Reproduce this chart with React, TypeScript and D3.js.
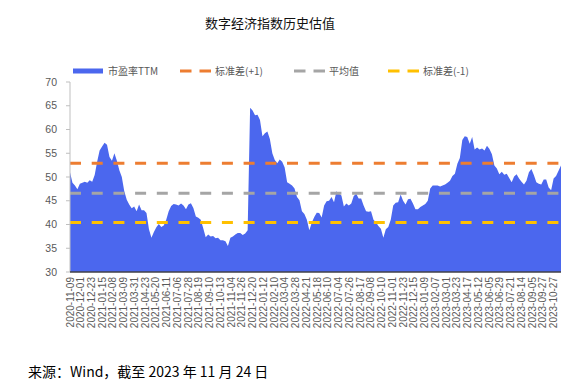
import React from 'react';
import * as d3 from 'd3';

// 市盈率TTM, sampled evenly across the whole period
const peValues = [
  51.0, 48.8, 48.2, 47.4, 48.6, 48.8, 49.0, 48.8, 49.3, 49.0,
  50.4, 53.2, 55.6, 56.4, 57.2, 56.8, 54.2, 53.4, 55.0, 53.4,
  51.4, 50.0, 47.0, 45.2, 44.2, 43.4, 43.8, 42.8, 44.2, 43.0,
  43.0, 42.4, 39.0, 37.2, 38.4, 39.4, 40.1, 39.5, 39.8, 41.0,
  42.8, 43.9, 44.3, 44.2, 44.0, 44.4, 44.0, 43.2, 44.2, 44.5,
  43.5, 41.7, 41.4, 41.0, 39.2, 37.3, 37.9, 37.5, 37.6, 37.1,
  37.2, 36.7, 36.7, 36.5, 35.5, 37.2, 37.5, 37.9, 38.2, 38.2,
  37.8, 38.1, 38.8, 64.6, 64.0, 63.0, 63.1, 62.0, 58.6, 59.2,
  59.6, 58.0, 55.0, 53.6, 52.9, 53.7, 53.2, 52.0, 48.9, 48.6,
  48.2, 47.6, 45.8, 45.1, 42.8, 42.2, 41.0, 38.8, 40.4, 41.6,
  42.5, 42.4, 41.5, 44.0, 44.9, 45.0, 45.8, 44.7, 47.0, 46.5,
  46.1, 43.8, 44.4, 44.0, 44.4, 46.0, 46.5, 45.5, 45.5, 44.0,
  42.8, 42.7, 42.8, 41.0, 40.5, 39.7, 39.1, 37.2, 39.0, 39.5,
  41.0, 44.0, 44.6, 44.7, 46.3, 45.0, 44.2, 45.3, 45.4, 44.4,
  43.2, 43.2, 43.7, 44.0, 44.3, 45.0, 47.6, 48.2, 48.2, 48.2,
  48.0, 48.2, 48.4, 48.8, 49.2, 50.2, 50.7, 52.8, 54.0, 57.8,
  58.6, 58.4, 57.0, 58.4, 55.8, 56.2, 55.8, 56.0, 55.6, 56.6,
  55.9, 54.8, 52.4, 51.8, 50.6, 51.1, 50.5, 50.7, 49.8, 48.9,
  50.1, 50.6, 49.7, 49.0, 48.4, 49.2, 51.0, 51.7, 50.4, 48.9,
  48.6, 48.4, 49.5, 49.5, 47.8, 47.2, 49.7, 50.2, 51.3, 52.4,
];

const meanValue = 46.6;
const stdPlus = 52.9;
const stdMinus = 40.4;

// x-axis labels, one every 16 trading days
const tickLabels = [
  '2020-11-09', '2020-12-01', '2020-12-23', '2021-01-15', '2021-02-08', '2021-03-09',
  '2021-03-31', '2021-04-23', '2021-05-20', '2021-06-11', '2021-07-06', '2021-07-28',
  '2021-08-19', '2021-09-10', '2021-10-13', '2021-11-04', '2021-11-26', '2021-12-20',
  '2022-01-12', '2022-02-10', '2022-03-04', '2022-03-28', '2022-04-21', '2022-05-18',
  '2022-06-10', '2022-07-04', '2022-07-26', '2022-08-17', '2022-09-08', '2022-10-10',
  '2022-11-01', '2022-11-23', '2022-12-15', '2023-01-09', '2023-02-07', '2023-03-01',
  '2023-03-23', '2023-04-17', '2023-05-12', '2023-06-05', '2023-06-29', '2023-07-21',
  '2023-08-14', '2023-09-05', '2023-09-27', '2023-10-27',
];
const tickStep = 16;
const totalDays = 732;

const yTicks = [30, 35, 40, 45, 50, 55, 60, 65, 70];

const legendItems = [
  { label: '市盈率TTM', color: '#4B67EE', kind: 'area' },
  { label: '标准差(+1)', color: '#ED7D31', kind: 'dash' },
  { label: '平均值', color: '#A5A5A5', kind: 'dash' },
  { label: '标准差(-1)', color: '#FFC000', kind: 'dash' },
];

const width = 581;
const height = 390;
const plot = { left: 70, right: 561, top: 82, bottom: 272 };
const textColor = '#595959';

const App = () => {
  const xScale = d3.scaleLinear().domain([0, peValues.length - 1]).range([plot.left, plot.right]);
  const dayScale = d3.scaleLinear().domain([0, totalDays - 1]).range([plot.left, plot.right]);
  const yScale = d3.scaleLinear().domain([30, 70]).range([plot.bottom, plot.top]);

  const area = d3
    .area<number>()
    .x((d, i) => xScale(i))
    .y0(yScale(30))
    .y1((d) => yScale(d));

  const refLines = [
    { value: stdPlus, color: legendItems[1].color },
    { value: meanValue, color: legendItems[2].color },
    { value: stdMinus, color: legendItems[3].color },
  ];

  const legendX = [73, 180, 294, 388];

  return (
    <>
      <style>{'body{margin:0}'}</style>
      <svg width={width} height={height} style={{ display: 'block', background: '#fff' }}>
        <text x={270} y={28} textAnchor="middle" fontSize={13} fill="#111"
          fontFamily="'Noto Sans CJK SC', sans-serif">数字经济指数历史估值</text>

        {/* legend */}
        <g fontFamily="'Noto Sans CJK SC', sans-serif" fontSize={10} fill={textColor}>
          {legendItems.map((item, i) => {
            const x0 = legendX[i];
            return (
              <g key={item.label}>
                {item.kind === 'area' ? (
                  <rect x={x0} y={68.5} width={30} height={5} fill={item.color} />
                ) : (
                  <line x1={x0} x2={x0 + 31} y1={71} y2={71} stroke={item.color}
                    strokeWidth={3} strokeDasharray="11.5,8" />
                )}
                <text x={x0 + 35} y={74.5}>{item.label}</text>
              </g>
            );
          })}
        </g>

        {/* area */}
        <path d={area(peValues) || ''} fill={legendItems[0].color} />

        {/* reference lines */}
        {refLines.map((r) => (
          <line key={r.value} x1={plot.left} x2={plot.right} y1={yScale(r.value)} y2={yScale(r.value)}
            stroke={r.color} strokeWidth={3} strokeDasharray="11,10.7" />
        ))}

        {/* y axis */}
        <line x1={plot.left} x2={plot.left} y1={plot.top} y2={plot.bottom} stroke="#BFBFBF" strokeWidth={1} />
        {yTicks.map((t) => (
          <g key={t}>
            <line x1={plot.left - 4} x2={plot.left} y1={yScale(t)} y2={yScale(t)} stroke="#BFBFBF" />
            <text x={plot.left - 13} y={yScale(t)} dy="0.35em" textAnchor="end" fontSize={10.5}
              fill={textColor} fontFamily="'Liberation Sans', Arial, sans-serif">{t}</text>
          </g>
        ))}

        {/* x axis */}
        <line x1={plot.left} x2={plot.right} y1={plot.bottom} y2={plot.bottom} stroke="#404048" strokeWidth={1.5} />
        {tickLabels.map((label, k) => {
          const x = dayScale(k * tickStep);
          return (
            <text key={label} transform={`translate(${x},277) rotate(-90)`} dy="0.35em" textAnchor="end"
              fontSize={10} fill={textColor} fontFamily="'Liberation Sans', Arial, sans-serif">{label}</text>
          );
        })}

        <text x={28} y={377} fontSize={14} fill="#000" fontFamily="'Noto Sans CJK SC', sans-serif">
          来源：Wind，截至 2023 年 11 月 24 日
        </text>
      </svg>
    </>
  );
};

export default App;
